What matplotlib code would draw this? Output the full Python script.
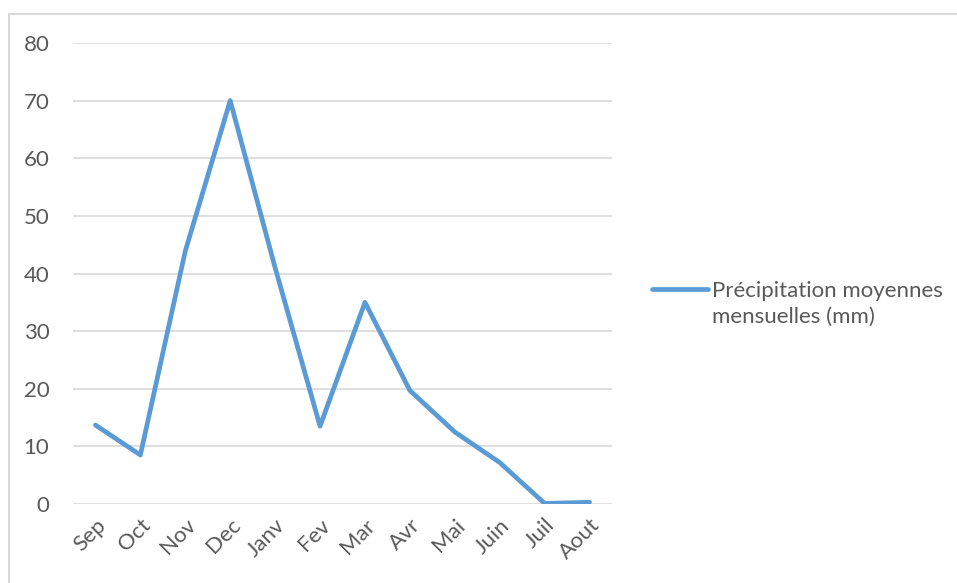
import matplotlib
matplotlib.use('Agg')
import matplotlib.pyplot as plt
from matplotlib.patches import Rectangle

# Monthly mean precipitation (mm), Sept -> Aug
mois = ['Sep', 'Oct', 'Nov', 'Dec', 'Janv', 'Fev', 'Mar', 'Avr', 'Mai', 'Juin', 'Juil', 'Aout']
precip = [13.7, 8.5, 43.9, 70.0, 41.0, 13.5, 35.0, 19.7, 12.5, 7.2, 0.1, 0.3]
y_ticks = [0, 10, 20, 30, 40, 50, 60, 70, 80]

plt.rcParams['font.family'] = ['Lato', 'DejaVu Sans']
text_color = '#595959'
grid_color = '#D9D9D9'
fs = 16

fig = plt.figure(figsize=(9.57, 5.83), dpi=100)
ax = fig.add_axes([73 / 957, 1 - 504 / 583, 539 / 957, 461 / 583])

x = range(len(mois))
ax.plot(x, precip, color='#5B9BD5', linewidth=3.4, solid_joinstyle='round',
        solid_capstyle='round', label='Précipitation moyennes\nmensuelles (mm)', zorder=3)

ax.set_xlim(-0.5, len(mois) - 0.5)
ax.set_ylim(0, 80)
ax.set_yticks(y_ticks)
ax.set_xticks(list(x))
ax.set_xticklabels(mois, rotation=45, ha='right', rotation_mode='anchor')
ax.tick_params(axis='both', length=0, labelsize=fs, labelcolor=text_color)
ax.tick_params(axis='y', pad=17)
ax.tick_params(axis='x', pad=8)
ax.grid(axis='y', color=grid_color, linewidth=1.2)
ax.set_axisbelow(True)
for s in ax.spines.values():
    s.set_visible(False)

# chart frame (open on the right and bottom)
fig.patches.append(Rectangle((9 / 957, -0.1), 1.2, 1 - 14 / 583 + 0.1,
                             transform=fig.transFigure, fill=False,
                             edgecolor=grid_color, linewidth=1.5))

leg = fig.legend(loc='upper left', bbox_to_anchor=(632 / 957, 1 - 261 / 583),
                 frameon=False, fontsize=fs, handlelength=2.5, handletextpad=0.2,
                 labelcolor=text_color)
leg.get_texts()[0].set_linespacing(1.35)
# put the legend key level with the first text line
h = leg.legend_handles[0]
h.set_ydata([y + 10.5 for y in h.get_ydata()])

fig.savefig('out.png', dpi=100)
